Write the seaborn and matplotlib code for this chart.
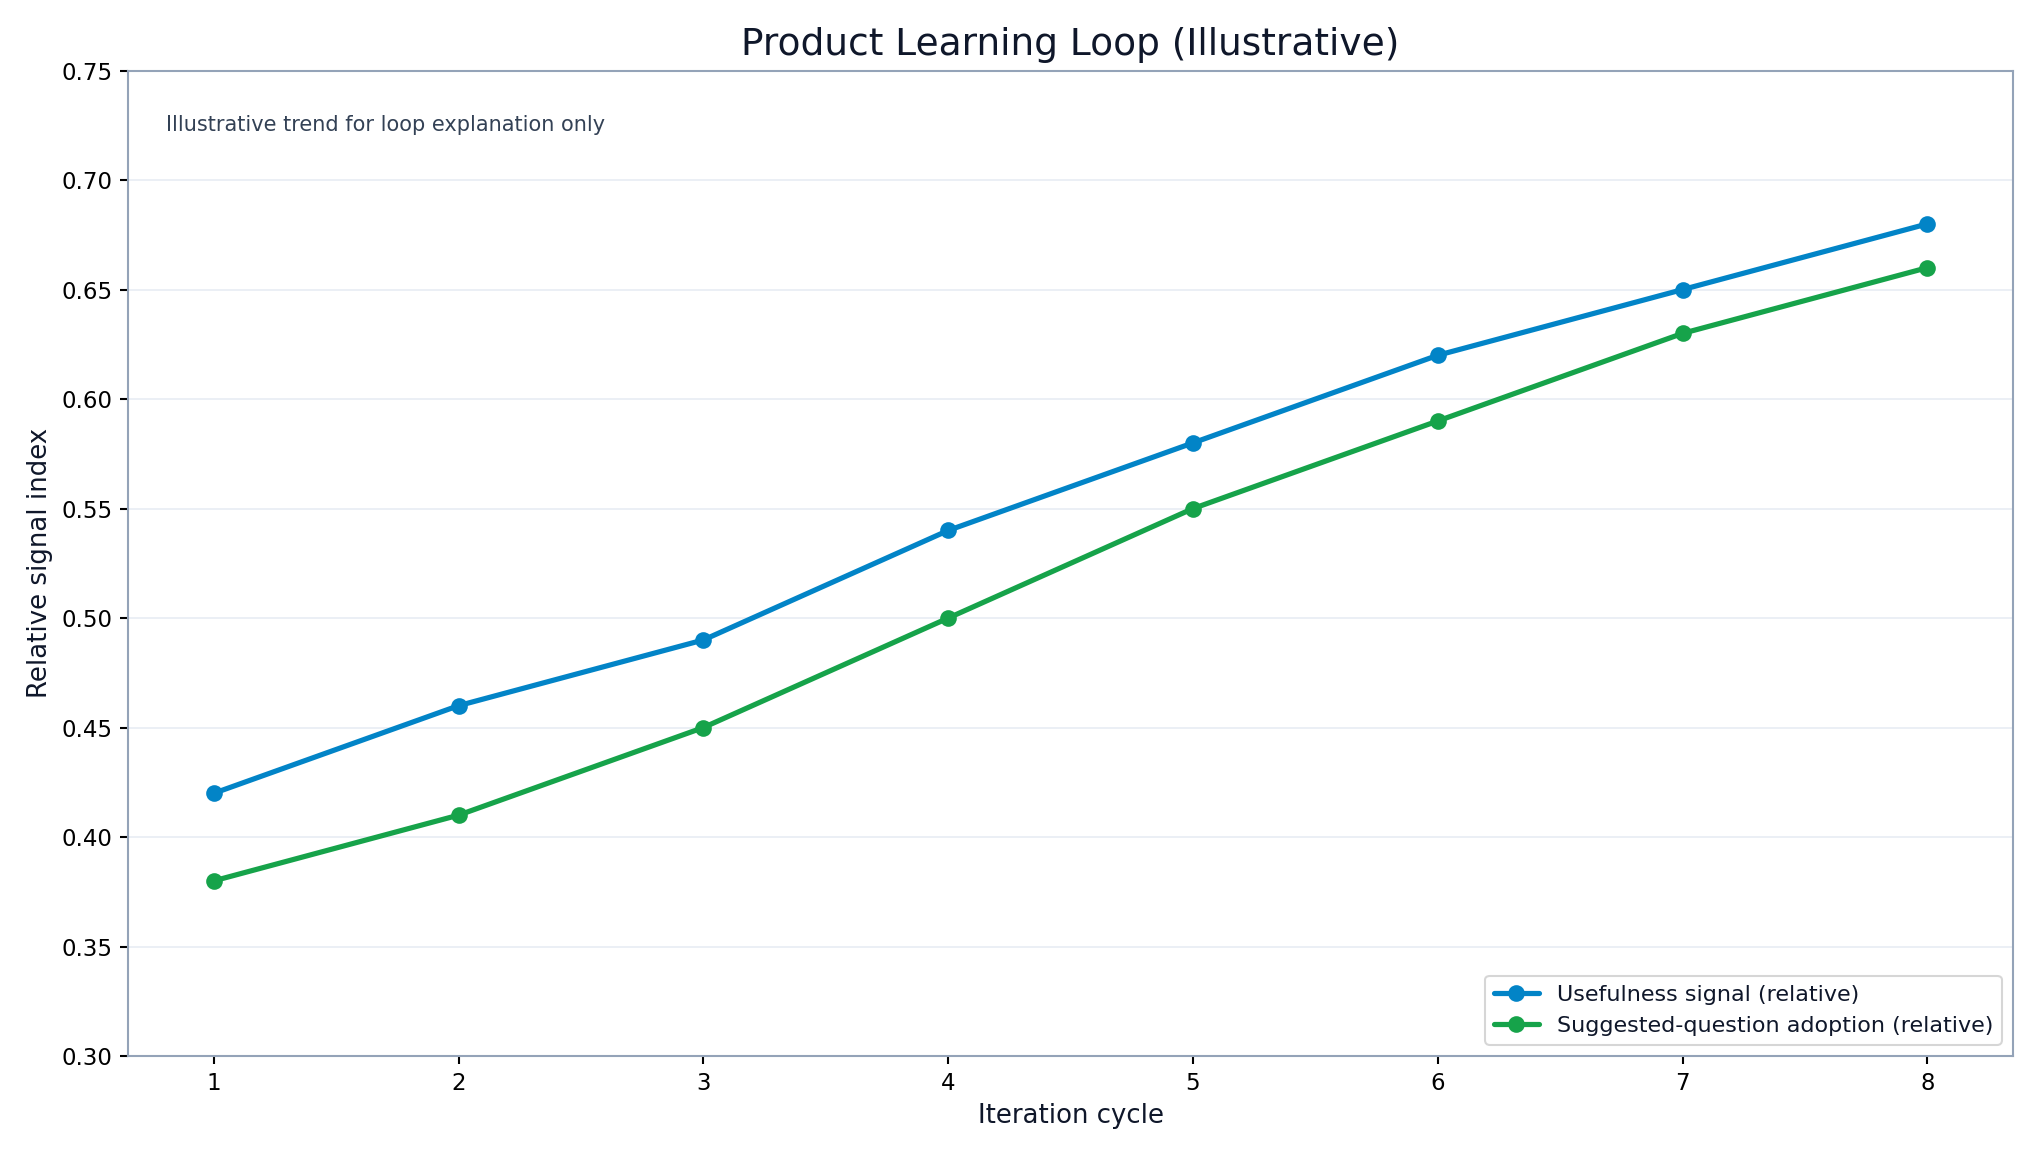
import pandas as pd
import seaborn as sns
import matplotlib.pyplot as plt

# ====================== DATA ======================
cycles = [1, 2, 3, 4, 5, 6, 7, 8]
usefulness = [0.42, 0.46, 0.49, 0.54, 0.58, 0.62, 0.65, 0.68]
adoption = [0.38, 0.41, 0.45, 0.50, 0.55, 0.59, 0.63, 0.66]
series_names = ["Usefulness signal (relative)", "Suggested-question adoption (relative)"]
yticks = [0.30, 0.35, 0.40, 0.45, 0.50, 0.55, 0.60, 0.65, 0.70, 0.75]

BLUE = "#0284c7"
GREEN = "#16a34a"
SPINE = "#94a3b8"


def make_plot():
    df = pd.DataFrame({
        "cycle": cycles * 2,
        "value": usefulness + adoption,
        "series": [series_names[0]] * len(cycles) + [series_names[1]] * len(cycles),
    })

    sns.set_theme(style="white")
    plt.rcParams['font.family'] = ['DejaVu Sans']

    fig, ax = plt.subplots(figsize=(13.6, 7.7067), dpi=150)
    sns.lineplot(data=df, x="cycle", y="value", hue="series",
                 palette=[BLUE, GREEN], marker="o", markersize=8,
                 markeredgewidth=0, linewidth=2.5, ax=ax)

    # axes styling
    ax.set_ylim(0.30, 0.75)
    ax.set_yticks(yticks)
    ax.set_xticks(cycles)
    ax.grid(axis="y", color="#e2e8f0", linewidth=0.8, alpha=0.8)
    ax.set_axisbelow(True)
    for s in ax.spines.values():
        s.set_color(SPINE)
        s.set_linewidth(1.0)
    ax.tick_params(axis="both", labelsize=11, labelcolor="black", color="black",
                   length=4, width=1, left=True, bottom=True)

    ax.set_title("Product Learning Loop (Illustrative)", fontsize=18, color="#0f172a", pad=7.5)
    ax.set_xlabel("Iteration cycle", fontsize=12.5, color="#0f172a")
    ax.set_ylabel("Relative signal index", fontsize=12.5, color="#0f172a")

    ax.text(0.02, 0.945, "Illustrative trend for loop explanation only",
            transform=ax.transAxes, fontsize=10, color="#334155", va="center")

    leg = ax.legend(loc="lower right", fontsize=10.7, frameon=True, title=None)
    for t in leg.get_texts():
        t.set_color("#0f172a")

    plt.tight_layout()
    plt.savefig("out.png", dpi=150)


if __name__ == "__main__":
    make_plot()
